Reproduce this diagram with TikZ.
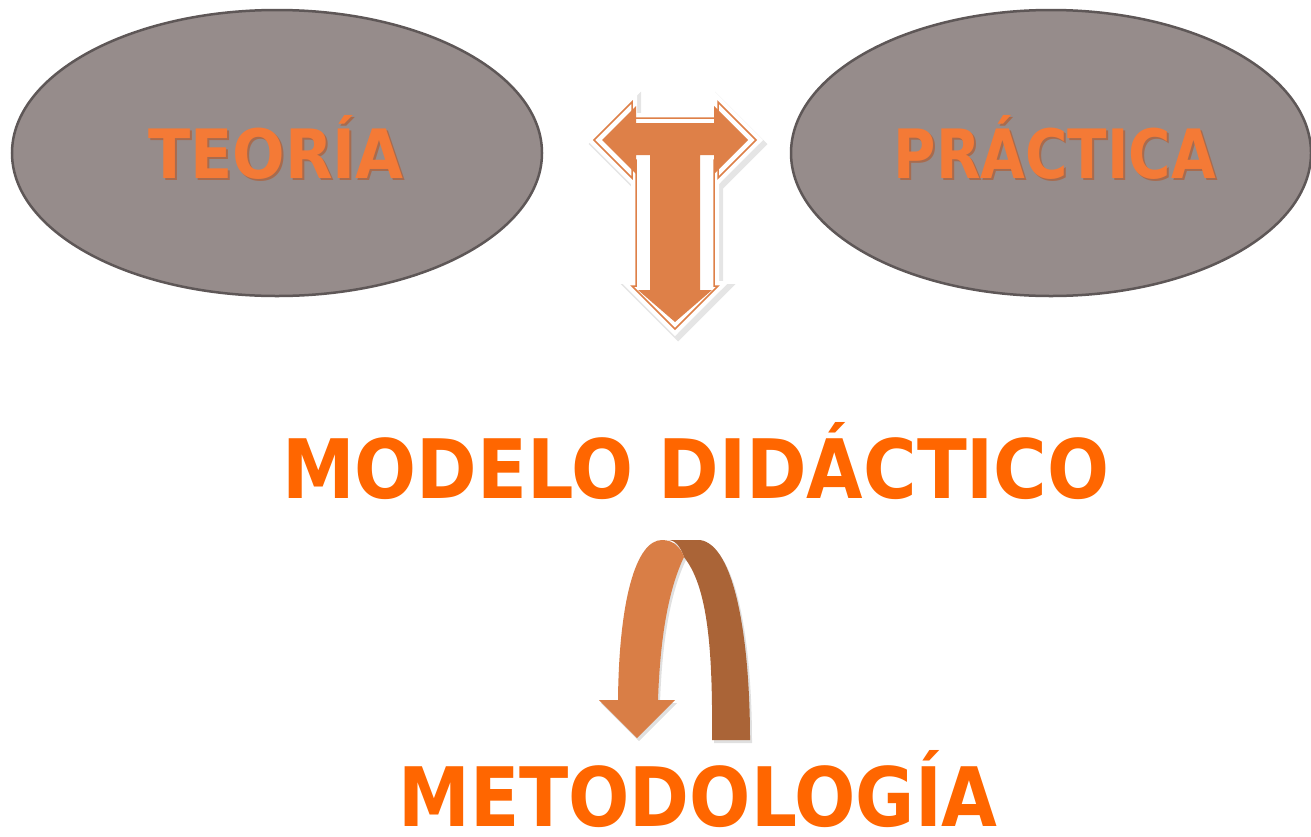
\documentclass[tikz,border=0pt]{standalone}
\usepackage{fontspec}
\setmainfont{DejaVu Sans}
\usetikzlibrary{shapes.geometric}
\definecolor{ellfill}{HTML}{968C8B}
\definecolor{elldraw}{HTML}{5E5757}
\definecolor{tarrow}{HTML}{DE8048}
\definecolor{ulight}{HTML}{D97E46}
\definecolor{udark}{HTML}{AA6437}
\definecolor{titleor}{HTML}{FF6600}
\definecolor{glossor}{HTML}{F47A36}
\definecolor{glossdark}{HTML}{B8501C}
\begin{document}
\begin{tikzpicture}[x=1pt,y=-1pt,
  ellbox/.style={ellipse, fill=ellfill, draw=elldraw, line width=2.5pt, minimum width=530pt, minimum height=286pt, inner sep=0pt},
  glosstext/.style={text=glossor, font=\bfseries\fontsize{68}{72}\selectfont, inner sep=0pt, anchor=base},
  glossshadow/.style={glosstext, text=glossdark, opacity=0.55},
  bigtext/.style={text=titleor, font=\bfseries\fontsize{82}{90}\selectfont, inner sep=0pt, anchor=base, text depth=0pt},
  Tout/.style={insert path={(594,140) -- (632,102) -- (632,118) -- (718,118) -- (718,102) -- (756,140) -- (718,178) -- (718,160) -- (714,160) -- (714,286) -- (718,286) -- (675,329) -- (632,286) -- (636,286) -- (636,160) -- (632,160) -- (632,178) -- cycle}},
  Tin/.style={insert path={(602,140) -- (636,106) -- (636,123) -- (714,123) -- (714,106) -- (748,140) -- (714,174) -- (714,155) -- (700,155) -- (700,290) -- (712,290) -- (675,322) -- (638,290) -- (650,290) -- (650,155) -- (636,155) -- (636,174) -- cycle}},
  Udarkpath/.style={insert path={(668,540) -- (700,540) .. controls (735,545) and (750,640) .. (750,740) -- (712,740) .. controls (713,640) and (706,585) .. (684,557) .. controls (681,548) and (676,540) .. (668,540) -- cycle}},
  Ulightpath/.style={insert path={(618,700) .. controls (619,600) and (636,540) .. (662,540) .. controls (674,540) and (681,548) .. (684,557) .. controls (668,590) and (660,640) .. (658,700) -- (675,700) -- (637,738) -- (599,700) -- cycle}}
]
\useasboundingbox (0,0) rectangle (1311,836);
\fill[white] (0,0) rectangle (1311,836);

% ellipses
\node[ellbox] (teoria) at (277,153) {};
\node[ellbox, minimum width=520pt] (practica) at (1051,153) {};

% glossy labels
\node[glossshadow] (teoriaS) at (278,180) {\scalebox{0.91}[1]{TEORÍA}};
\node[glosstext] (teoriaT) at (276,178) {\scalebox{0.91}[1]{TEORÍA}};
\node[glossshadow] (practicaS) at (1057,180) {\scalebox{0.85}[1]{PRÁCTICA}};
\node[glosstext] (practicaT) at (1055,178) {\scalebox{0.85}[1]{PRÁCTICA}};

% T arrow
\draw[black, opacity=0.10, line width=12pt, fill=black, shift={(3,4)}, Tout];
\draw[white, line width=10pt, fill=white, Tout];
\draw[tarrow, line width=1.5pt, Tout];
\fill[tarrow, Tin];

% U-turn arrow
\fill[black, opacity=0.12, shift={(2,3)}, Udarkpath];
\fill[black, opacity=0.12, shift={(2,3)}, Ulightpath];
\fill[udark, Udarkpath];
\fill[ulight, Ulightpath];

% titles
\node[bigtext] (modelo) at (696,498) {\scalebox{0.89}[1]{MODELO DIDÁCTICO}};
\node[bigtext] (metodologia) at (698,826) {\scalebox{0.88}[1]{METODOLOGÍA}};
\end{tikzpicture}
\end{document}
